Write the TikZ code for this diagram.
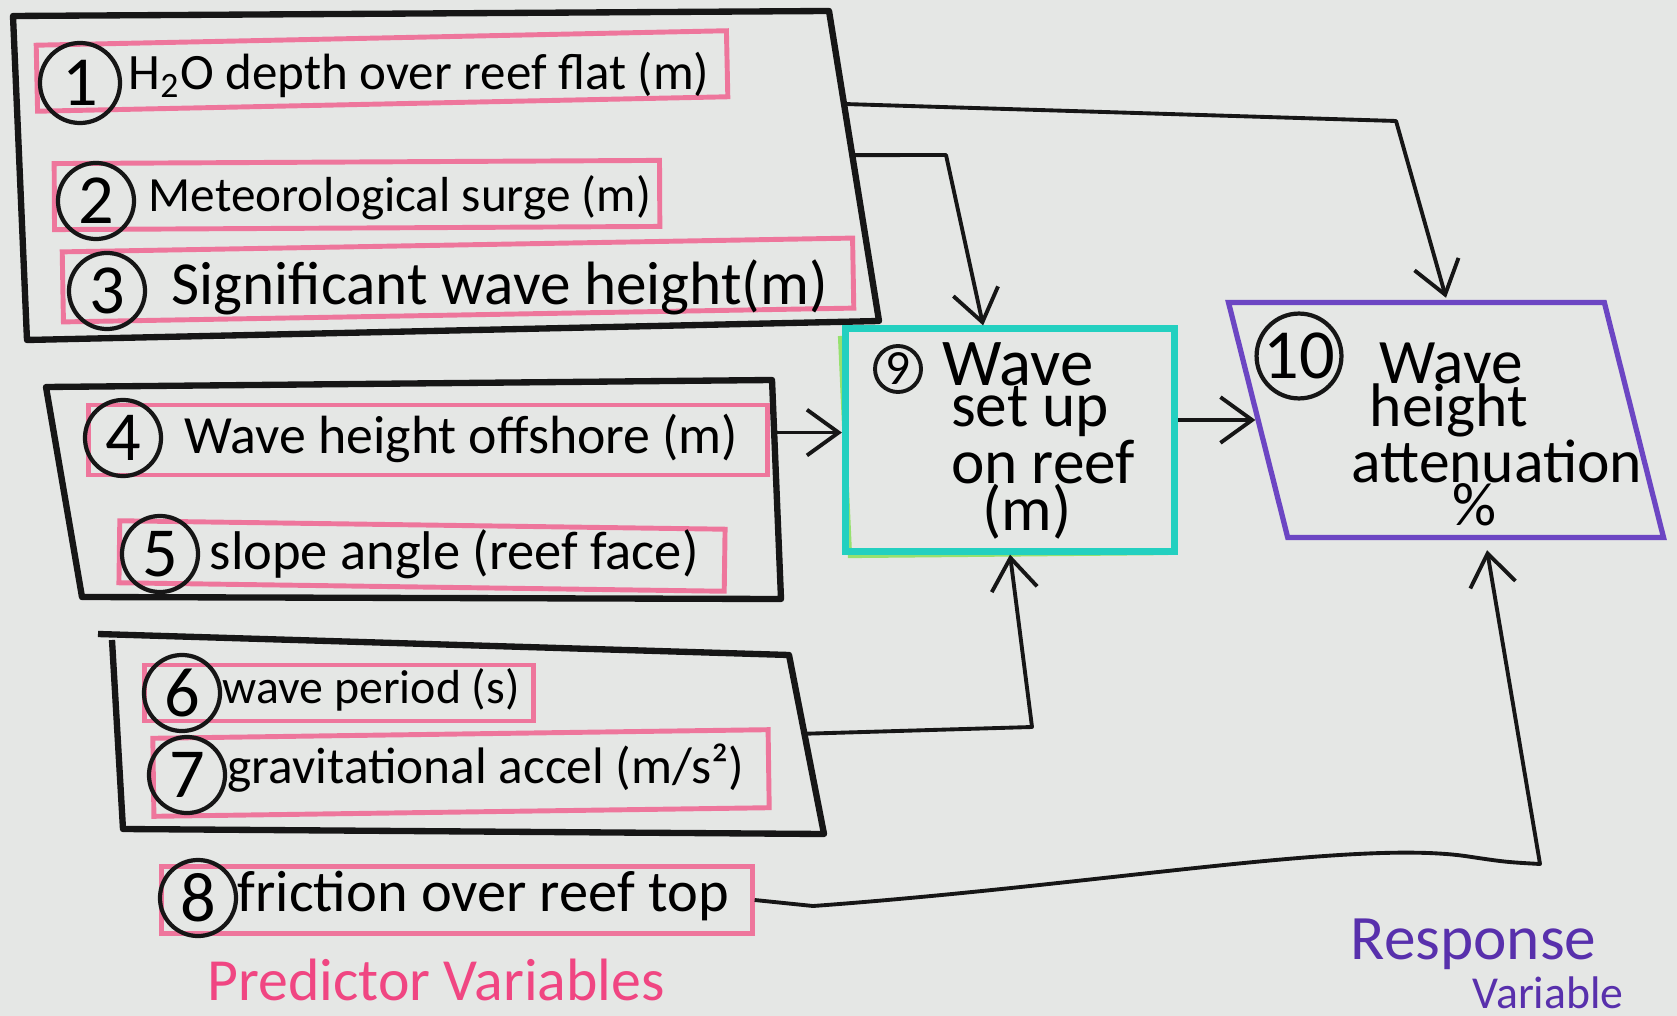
\documentclass[tikz,border=0pt]{standalone}
\usepackage{fontspec}
\setmainfont{Carlito}
\usetikzlibrary{arrows.meta,calc,shapes.geometric}
\definecolor{board}{RGB}{229,231,229}
\definecolor{pinkm}{RGB}{238,118,156}
\definecolor{tealm}{RGB}{35,208,192}
\definecolor{greenm}{RGB}{150,225,110}
\definecolor{purplem}{RGB}{108,70,195}
\definecolor{pinktext}{RGB}{240,70,130}
\definecolor{purpletext}{RGB}{88,48,172}
\definecolor{ink}{RGB}{22,22,22}
\begin{document}
\begin{tikzpicture}[x=0.01cm,y=-0.01cm,
  grp/.style={draw=ink,line width=1.8pt,line join=round},
  pinkbox/.style={draw=pinkm,line width=1.4pt,inner sep=0pt},
  num/.style={circle,draw=ink,line width=1.2pt,inner sep=0pt,minimum size=0.76cm,font=\fontsize{20}{20}\selectfont},
  lbl/.style={anchor=west,inner sep=0pt,font=\fontsize{#1}{#1}\selectfont},
  lbl/.default=16,
  bline/.style={inner sep=0pt,anchor=base,font=\fontsize{#1}{#1}\selectfont},
  bline/.default=18,
  conn/.style={draw=ink,line width=1.1pt,line join=round,-{Straight Barb[length=9pt,width=13pt]}}
]
\fill[board] (0,0) rectangle (1677,1016);
\useasboundingbox (0,0) rectangle (1677,1016);

% group boxes
\coordinate (ATL) at (13,16); \coordinate (ATR) at (829,11);
\coordinate (ABR) at (879,321); \coordinate (ABL) at (27,340);
\draw[grp] (ATL) -- (ATR) -- (ABR) -- (ABL) -- cycle;
\coordinate (BTL) at (46,387); \coordinate (BTR) at (772,380);
\coordinate (BBR) at (781,599); \coordinate (BBL) at (82,597);
\draw[grp] (BTL) -- (BTR) -- (BBR) -- (BBL) -- cycle;
\coordinate (CTL) at (98,634); \coordinate (CTR) at (789,655);
\coordinate (CBR) at (824,834); \coordinate (CBL) at (123,829);
\coordinate (CLT) at (112,640);
\draw[grp] (CTL) -- (CTR) -- (CBR) -- (CBL) -- (CLT);

% pink boxes
\node[pinkbox,minimum width=6.90cm,minimum height=0.66cm,rotate=1.2] (p1) at (382,71) {};
\node[pinkbox,minimum width=6.05cm,minimum height=0.66cm,rotate=0.3] (p2) at (357,195) {};
\node[pinkbox,minimum width=7.90cm,minimum height=0.70cm,rotate=1] (p3) at (458,280) {};
\node[pinkbox,minimum width=6.78cm,minimum height=0.70cm] (p4) at (428,440) {};
\node[pinkbox,minimum width=6.05cm,minimum height=0.62cm,rotate=-0.8] (p5) at (422,556) {};
\node[pinkbox,minimum width=3.88cm,minimum height=0.56cm] (p6) at (339,693) {};
\node[pinkbox,minimum width=6.15cm,minimum height=0.78cm,rotate=0.8] (p7) at (461,773) {};
\node[pinkbox,minimum width=5.90cm,minimum height=0.67cm] (p8) at (457,900) {};

% numbers
\node[num,minimum size=0.80cm] (c1) at (80,83) {1};
\node[num] (c2) at (96,201) {2};
\node[num] (c3) at (107,291) {3};
\node[num] (c4) at (123,438) {4};
\node[num] (c5) at (160,554) {5};
\node[num] (c6) at (182,693) {6};
\node[num] (c7) at (187,775) {7};
\node[num] (c8) at (198,898) {8};

% labels
\node[lbl=14.5] (t1) at (128,75) {H\textsubscript{2}O depth over reef flat (m)};
\node[lbl=14] (t2) at (148,198) {Meteorological surge (m)};
\node[lbl=17.4] (t3) at (171,287) {Significant wave height(m)};
\node[lbl=15.3] (t4) at (184,438) {Wave height offshore (m)};
\node[lbl=15.5] (t5) at (209,554) {slope angle (reef face)};
\node[lbl=13.6] (t6) at (222,690) {wave period (s)};
\node[lbl=14.6] (t7) at (227,768) {gravitational accel (m/s²)};
\node[lbl=16.6] (t8) at (237,896) {friction over reef top};

% box 9
\draw[greenm,line width=1.2pt] (840,336) -- (850,556) -- (1168,553);
\node[draw=tealm,line width=2pt,minimum width=3.29cm,minimum height=2.22cm] (n9) at (1010,440) {};
\node[circle,draw=ink,line width=1.1pt,inner sep=0pt,minimum size=0.46cm,font=\fontsize{14}{14}\selectfont] (c9) at (898,369) {9};
\node[bline=19] (w9a) at (1018,386) {Wave};
\node[bline] (w9b) at (1030,427) {set up};
\node[bline] (w9c) at (1043,484) {on reef};
\node[bline] (w9d) at (1027,531) {(m)};

% box 10
\node[trapezium,trapezium left angle=100.6,trapezium right angle=79.4,trapezium stretches=true,
      minimum width=4.35cm,minimum height=2.35cm,draw=purplem,line width=1.5pt] (n10) at (1446,420) {};
\node[circle,draw=ink,line width=1.2pt,inner sep=0pt,minimum size=0.68cm,font=\fontsize{20}{20}\selectfont] (c10) at (1299,356) {10};
\node[bline=18] (w10a) at (1451,384) {Wave};
\node[bline=17.5] (w10b) at (1449,427) {height};
\node[bline=17.5] (w10c) at (1497,482) {attenuation};
\node[bline=17.5] (w10d) at (1474,525) {\%};

% captions
\node[inner sep=0pt,text=pinktext,font=\fontsize{17}{17}\selectfont] (pred) at (436,980) {Predictor Variables};
\node[inner sep=0pt,anchor=west,text=purpletext,font=\fontsize{18}{18}\selectfont] (resp) at (1350,944) {Response};
\node[inner sep=0pt,anchor=west,text=purpletext,font=\fontsize{13}{13}\selectfont] (var) at (1472,993) {Variable};

% connectors
\coordinate (aOut1) at ($(ATR)!0.3!(ABR)$);
\coordinate (aOut2) at ($(ATR)!0.465!(ABR)$);
\coordinate (k1) at (1396,121);
\coordinate (k2) at (946,155);
\coordinate (t9top) at ($(n9.north west)!0.42!(n9.north east)$);
\draw[conn] (aOut1) -- (k1) -- ($(n10.north)+(0,-2)$);
\draw[conn] (aOut2) -- (k2) -- (t9top);
\coordinate (bOut) at ($(BTR)!0.24!(BBR)$);
\draw[conn] (bOut) -- (n9.west |- bOut);
\draw[conn] (n9.east |- n10.west) -- (n10.west);
\coordinate (cOut) at ($(CTR)!0.44!(CBR)$);
\coordinate (k5) at (1032,727);
\draw[conn] (cOut) -- (k5) -- (n9.south);
\coordinate (k6) at (1540,864);
\coordinate (t10bot) at ($(n10.south)+(41,10)$);
\draw[conn] (p8.east) -- (813,906) .. controls (1100,885) and (1350,840) .. (1465,856)
  .. controls (1505,862) .. (k6) -- (t10bot);
\end{tikzpicture}
\end{document}
